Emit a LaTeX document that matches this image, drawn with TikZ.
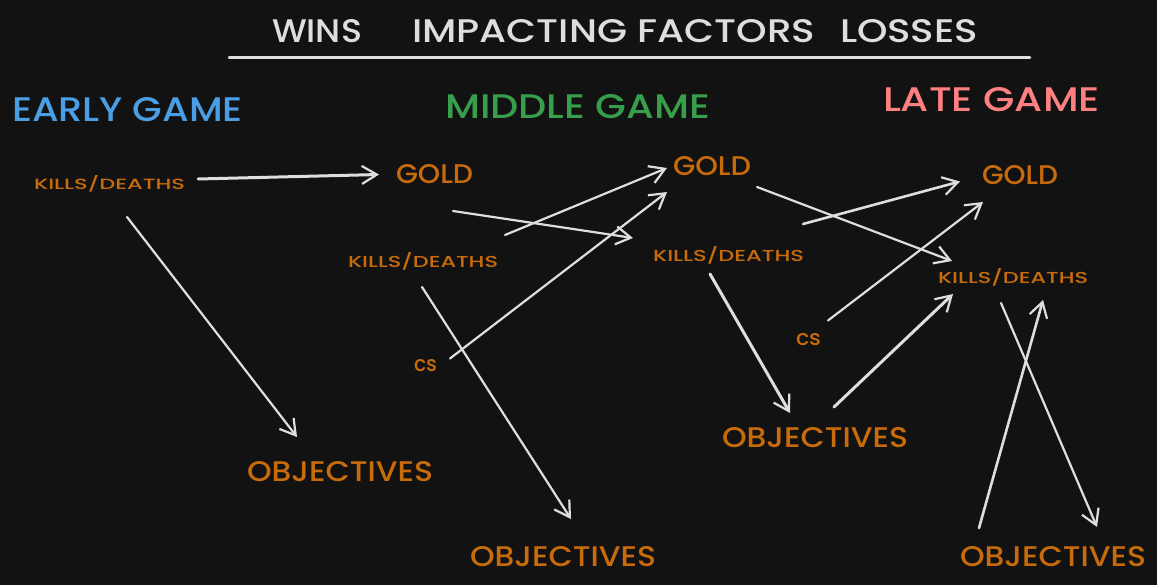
\documentclass[tikz,border=0pt]{standalone}
\usepackage{fontspec}
\setmainfont{Poppins}[UprightFont=* Medium]
\usetikzlibrary{arrows.meta}

\definecolor{bgdark}{RGB}{18,18,18}
\definecolor{inkgray}{RGB}{222,222,222}
\definecolor{labelorange}{RGB}{200,107,10}
\definecolor{earlyblue}{RGB}{74,158,229}
\definecolor{midgreen}{RGB}{55,158,75}
\definecolor{latepink}{RGB}{255,128,128}

% text scaled to a given width and cap height, sitting on its baseline
\newcommand{\fitlabel}[3]{\raisebox{0pt}[#2][0pt]{\resizebox{#1}{#2}{#3}}}

\tikzset{
  lbl/.style={inner sep=0pt, outer sep=0pt, anchor=south west},
  factor/.style={lbl, text=labelorange},
  heading/.style={lbl},
  arr/.style={draw=inkgray, line width=2.2pt, line cap=round, line join=round,
    -{Straight Barb[length=15pt,width=18pt,line width=2.2pt]}},
  thickarr/.style={arr, line width=3pt},
}

\begin{document}
\begin{tikzpicture}[x=1pt,y=-1pt]
  \fill[bgdark] (0,0) rectangle (1157,585);
  \useasboundingbox (0,0) rectangle (1157,585);

  % title row and its rule
  \node[heading, text=inkgray] (wins) at (272,43) {\fitlabel{90pt}{23pt}{WINS}};
  \node[heading, text=inkgray] (factors) at (412,43) {\fitlabel{403pt}{23pt}{IMPACTING FACTORS}};
  \node[heading, text=inkgray] (losses) at (840,43) {\fitlabel{138pt}{23pt}{LOSSES}};
  \draw[inkgray, line width=2.5pt, line cap=round] (229,57.5) -- (1030,57.5);

  % phase headings
  \node[heading, text=earlyblue] (early) at (12,122) {\fitlabel{231pt}{24pt}{EARLY GAME}};
  \node[heading, text=midgreen] (middle) at (445,119) {\fitlabel{265pt}{24pt}{MIDDLE GAME}};
  \node[heading, text=latepink] (late) at (883,112) {\fitlabel{217pt}{24pt}{LATE GAME}};

  % early game
  \node[factor] (kd1) at (34,190) {\fitlabel{151pt}{14pt}{KILLS/DEATHS}};
  \node[factor] (gold1) at (396,184) {\fitlabel{77pt}{19pt}{GOLD}};
  \node[factor] (obj1) at (247,481) {\fitlabel{186pt}{20pt}{OBJECTIVES}};

  % middle game
  \node[factor] (kd2) at (348,268) {\fitlabel{150pt}{15pt}{KILLS/DEATHS}};
  \node[factor] (gold2) at (673,176) {\fitlabel{78pt}{19pt}{GOLD}};
  \node[factor] (cs1) at (414,371) {\fitlabel{23pt}{12pt}{cs}};
  \node[factor] (obj2) at (470,566) {\fitlabel{186pt}{20pt}{OBJECTIVES}};
  \node[factor] (kd3) at (653,262) {\fitlabel{151pt}{15pt}{KILLS/DEATHS}};
  \node[factor] (obj3) at (722,447) {\fitlabel{186pt}{20pt}{OBJECTIVES}};

  % late game
  \node[factor] (cs2) at (796,346) {\fitlabel{25pt}{12pt}{cs}};
  \node[factor] (gold3) at (982,185) {\fitlabel{76pt}{19pt}{GOLD}};
  \node[factor] (kd4) at (938,284) {\fitlabel{150pt}{15pt}{KILLS/DEATHS}};
  \node[factor] (obj4) at (960,566) {\fitlabel{186pt}{20pt}{OBJECTIVES}};

  % influences
  \draw[thickarr] ([shift={(13,-4)}]kd1.east) -- ([shift={(-17,0)}]gold1.west);
  \draw[arr] ([shift={(17.5,27)}]kd1.south) -- ([shift={(-43,-24)}]obj1.north);
  \draw[arr] ([shift={(18.5,27)}]gold1.south) -- ([shift={(-20,-9)}]kd3.north west);
  \draw[arr] ([shift={(7,-18)}]kd2.north east) -- ([shift={(-6,1.5)}]gold2.west);
  \draw[arr] ([shift={(13,-6.5)}]cs1.east) -- ([shift={(-6,16)}]gold2.south west);
  \draw[arr] ([shift={(-1,19)}]kd2.south) -- ([shift={(8,-27)}]obj2.north);
  \draw[arr] ([shift={(6,11)}]gold2.south east) -- ([shift={(14,-8)}]kd4.north west);
  \draw[arr, line width=2.6pt] ([shift={(-1,-23)}]kd3.north east) -- ([shift={(-22,6)}]gold3.west);
  \draw[arr] ([shift={(7,-19.5)}]cs2.east) -- ([shift={(-37,17)}]gold3.south);
  \draw[thickarr] ([shift={(-18.5,12)}]kd3.south) -- ([shift={(-25,-14)}]obj3.north);
  \draw[thickarr] ([shift={(19,-20)}]obj3.north) -- ([shift={(15,10)}]kd4.south west);
  \draw[arr] ([shift={(-12,19)}]kd4.south) -- ([shift={(-49,-19)}]obj4.north east);
  \draw[arr, line width=2.6pt] ([shift={(-74,-18)}]obj4.north) -- ([shift={(30,16)}]kd4.south);
\end{tikzpicture}
\end{document}
